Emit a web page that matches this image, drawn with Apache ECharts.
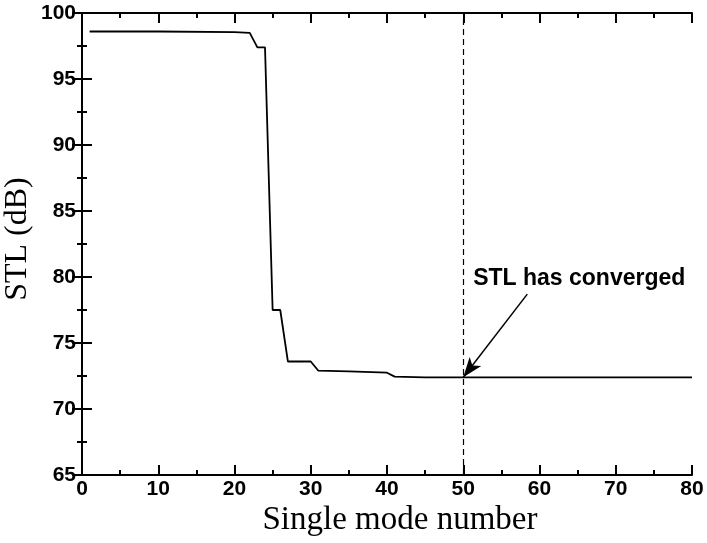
<!DOCTYPE html>
<html>
<head>
<meta charset="utf-8">
<script src="https://cdn.jsdelivr.net/npm/echarts@6/dist/echarts.min.js"></script>
<style>
  html, body { margin: 0; padding: 0; background: #fff; }
  #chart { width: 707px; height: 543px; }
</style>
</head>
<body>
<div id="chart"></div>
<script>
// mode number vs transmission loss
var modes = [1, 10, 20, 22, 23, 24, 25, 26, 27, 30, 31, 35, 40, 41, 45, 50, 60, 70, 80];
var stl = [98.6, 98.6, 98.55, 98.5, 97.4, 97.4, 77.5, 77.5, 73.6, 73.6, 72.9, 72.85, 72.75, 72.45, 72.4, 72.4, 72.4, 72.4, 72.4];

var convergedAt = 50;
var noteText = "STL has converged";
var noteAt = [51.3, 79.9];
var arrowFrom = [58.4, 78.7];
var arrowTo = [50, 72.4];

var xTicks = { min: 0, max: 80, interval: 10 };
var yTicks = { min: 65, max: 100, interval: 5 };

var tickFont = { fontFamily: "Liberation Sans, Arial, sans-serif", fontWeight: "bold", fontSize: 21, color: "#000" };
var titleFont = { fontFamily: "Liberation Serif, Times New Roman, serif", fontSize: 33, color: "#000" };

var points = modes.map(function (m, i) { return [m, stl[i]]; });

var chart = echarts.init(document.getElementById("chart"));

function frameAxis(extra) {
  return Object.assign({
    type: "value",
    nameMoveOverlap: false,
    axisLine: { show: true, lineStyle: { color: "#000", width: 2 } },
    axisTick: { show: true, inside: true, length: 10, lineStyle: { color: "#000", width: 2 } },
    minorTick: { show: true, splitNumber: 2, length: 5, lineStyle: { color: "#000", width: 2 } },
    splitLine: { show: false },
    axisLabel: { show: false }
  }, extra);
}

chart.setOption({
  animation: false,
  grid: { left: 82, right: 15, top: 13, bottom: 68, containLabel: false, outerBoundsMode: "none" },
  xAxis: [
    frameAxis({
      position: "bottom", min: xTicks.min, max: xTicks.max, interval: xTicks.interval,
      axisLabel: Object.assign({ show: true, margin: 4 }, tickFont),
      name: "Single mode number", nameLocation: "middle", nameGap: 29,
      nameTextStyle: Object.assign({}, titleFont, { padding: [0, 0, 0, 26] })
    }),
    frameAxis({ position: "top", min: xTicks.min, max: xTicks.max, interval: xTicks.interval })
  ],
  yAxis: [
    frameAxis({
      position: "left", min: yTicks.min, max: yTicks.max, interval: yTicks.interval,
      axisLabel: Object.assign({ show: true, margin: 6 }, tickFont),
      name: "STL (dB)", nameLocation: "middle", nameGap: 48,
      nameTextStyle: Object.assign({}, titleFont, { fontSize: 32, padding: [0, 0, 0, 10] })
    }),
    frameAxis({ position: "right", min: yTicks.min, max: yTicks.max, interval: yTicks.interval })
  ],
  series: [{
    type: "line",
    data: points,
    showSymbol: false,
    symbol: "none",
    lineStyle: { color: "#000", width: 1.8 },
    markLine: {
      silent: true,
      animation: false,
      data: [
        [{ xAxis: convergedAt, yAxis: yTicks.min, symbol: "none" },
         { xAxis: convergedAt, yAxis: yTicks.max, symbol: "none" }],
        [{ coord: arrowFrom, symbol: "none", lineStyle: { type: "solid", width: 1.5 } },
         { coord: arrowTo, symbol: "arrow", symbolSize: [11, 20] }]
      ],
      lineStyle: { color: "#000", type: [6, 4], width: 1.2 },
      label: { show: false }
    },
    markPoint: {
      silent: true,
      symbol: "circle",
      symbolSize: 0,
      data: [{ coord: noteAt, value: noteText }],
      label: {
        show: true, position: "right", distance: 0,
        formatter: noteText,
        fontFamily: "Liberation Sans, Arial, sans-serif", fontWeight: "bold", fontSize: 23, color: "#000"
      }
    }
  }]
});
</script>
</body>
</html>
